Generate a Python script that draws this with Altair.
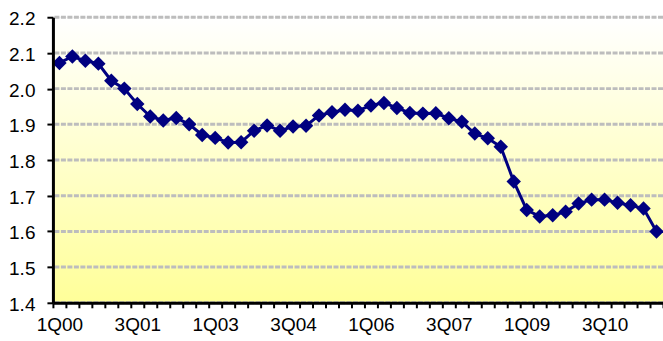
import json
import altair as alt
import pandas as pd

quarters = [f"{q}Q{y:02d}" for y in range(0, 12) for q in range(1, 5)][:47]
values = [2.072, 2.090, 2.078, 2.070, 2.022, 2.000, 1.957, 1.922, 1.911, 1.918,
          1.900, 1.870, 1.862, 1.849, 1.850, 1.882, 1.897, 1.882, 1.894, 1.896,
          1.925, 1.934, 1.941, 1.938, 1.953, 1.960, 1.946, 1.932, 1.930, 1.931,
          1.917, 1.907, 1.874, 1.861, 1.837, 1.740, 1.660, 1.642, 1.645, 1.655,
          1.678, 1.689, 1.689, 1.680, 1.673, 1.664, 1.600]
y_ticks = [1.4, 1.5, 1.6, 1.7, 1.8, 1.9, 2.0, 2.1, 2.2]
y_domain = [1.4, 2.2]
x_domain = [-0.5, len(values) - 0.5]

df = pd.DataFrame({"idx": list(range(len(values))), "quarter": quarters, "value": values})
grid_df = pd.DataFrame({"value": y_ticks})
bg_df = pd.DataFrame({"x": [x_domain[0]], "x2": [x_domain[1]],
                      "y": [y_domain[0]], "y2": [y_domain[1]]})

label_arr = json.dumps(quarters)
x_label_expr = (f"(round(datum.value + 0.5) % 6 == 0) ? "
                f"{label_arr}[round(datum.value + 0.5)] : ''")

FONT = "Liberation Sans"

x_scale = alt.Scale(domain=x_domain, nice=False, zero=False)
y_scale = alt.Scale(domain=y_domain, nice=False, zero=False)

x_axis = alt.Axis(
    title=None,
    values=[i - 0.5 for i in range(len(values) + 1)],
    labelExpr=x_label_expr,
    labelOffset=6.5,
    labelOverlap=False,
    labelFlush=False,
    labelFont=FONT, labelFontSize=19, labelColor="black",
    labelPadding=8,
    tickSize=5, tickWidth=2, tickColor="black",
    domainColor="black", domainWidth=3,
    grid=False, zindex=1,
)
y_axis = alt.Axis(
    title=None,
    values=y_ticks,
    format=".1f",
    labelFont=FONT, labelFontSize=19, labelColor="black",
    labelPadding=12, labelOffset=1.5,
    tickSize=6, tickWidth=2, tickColor="black",
    domainColor="black", domainWidth=3,
    grid=False, labelFlush=False, zindex=1,
)

bg = alt.Chart(bg_df).mark_rect(
    fill=alt.Gradient(
        gradient="linear", x1=0, y1=0, x2=0, y2=1,
        stops=[alt.GradientStop(color="#FFFFFF", offset=0),
               alt.GradientStop(color="#FFFF99", offset=1)],
    )
).encode(
    x=alt.X("x:Q", scale=x_scale, axis=x_axis), x2="x2:Q",
    y=alt.Y("y:Q", scale=y_scale, axis=y_axis), y2="y2:Q",
)

grid = alt.Chart(grid_df).mark_rule(
    color="#BDBDBD", strokeWidth=3, strokeDash=[5, 1.5]
).encode(y=alt.Y("value:Q", scale=y_scale, axis=y_axis))

base = alt.Chart(df).encode(
    x=alt.X("idx:Q", scale=x_scale, axis=x_axis),
    y=alt.Y("value:Q", scale=y_scale, axis=y_axis),
)
line = base.mark_line(color="#000080", strokeWidth=3)
pts = base.mark_point(shape="diamond", filled=True, color="#000080", size=210, opacity=1)

chart = (
    alt.layer(bg, grid, line, pts)
    .properties(
        width=611, height=286,
        autosize=alt.AutoSizeParams(type="none"),
        padding={"left": 53, "top": 17, "right": 0, "bottom": 38},
    )
    .configure_view(stroke=None)
    .configure(background="white")
)

chart.save("out.html", embed_options={"renderer": "svg", "actions": False})
